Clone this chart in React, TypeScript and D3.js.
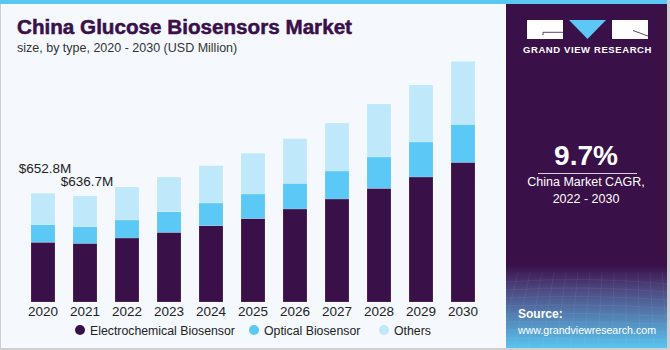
import React from 'react';
import * as d3 from 'd3';

// values (USD Million)
const years = ['2020', '2021', '2022', '2023', '2024', '2025', '2026', '2027', '2028', '2029', '2030'];
const electrochemical = [358.5, 352, 384, 418, 458, 501, 558, 618, 682, 750, 838];
const optical = [106, 101, 108, 124, 136, 147, 154, 168, 188, 210, 228];
const others = [188.3, 183.7, 198, 208, 224, 245, 268, 288, 318, 342, 378];
const seriesNames = ['Electrochemical Biosensor', 'Optical Biosensor', 'Others'];
const annotations = [
  { year: '2020', label: '$652.8M', offset: 20 },
  { year: '2021', label: '$636.7M', offset: 10 },
];

const W = 670;
const H = 350;
const colors = ['#3a1049', '#5bc8f5', '#bfe9fa'];
const font = '"Liberation Sans", Arial, sans-serif';

const App: React.FC = () => {
  const rows = years.map((y, i) => ({
    year: y,
    electro: electrochemical[i],
    optical: optical[i],
    others: others[i],
  }));
  const stack = d3.stack<any>().keys(['electro', 'optical', 'others'])(rows);

  const x = d3.scaleBand<string>()
    .domain(years)
    .range([31, 475])
    .paddingInner(0.4286)
    .paddingOuter(0);

  const y = d3.scaleLinear().domain([0, 1500]).range([302, 52]);

  const totals = years.map((_, i) => electrochemical[i] + optical[i] + others[i]);

  // decorative mesh at the bottom of the side panel
  const meshH = d3.range(0, 8).map(i => 282 + i * 8);
  const meshV = d3.range(0, 14).map(i => 506 + i * 12);

  const legendX = [80, 254, 384];

  return (
    <svg width={W} height={H} style={{ position: 'fixed', left: 0, top: 0 }} fontFamily={font}>
      <defs>
        <linearGradient id="panelGrad" x1="0" y1="0" x2="0" y2="1">
          <stop offset="0%" stopColor="#3a1049" />
          <stop offset="76%" stopColor="#3a1049" />
          <stop offset="83%" stopColor="#4d4880" />
          <stop offset="100%" stopColor="#5ac4f0" />
        </linearGradient>
        <clipPath id="meshClip">
          <rect x={506} y={272} width={161} height={76} />
        </clipPath>
      </defs>

      <rect x={0} y={0} width={W} height={H} fill="#cfcfcf" />
      <rect x={1} y={0} width={666} height={348} fill="#f5f9fd" />
      <rect x={0} y={0} width={667} height={4} fill="#5ac8f2" />

      <text x={17} y={34} fontSize={20} fontWeight={900} fill="#3a1049"
        textLength={335} lengthAdjust="spacingAndGlyphs" stroke="#3a1049" strokeWidth={0.5}>
        China Glucose Biosensors Market
      </text>
      <text x={17} y={52} fontSize={12.5} fill="#333">
        size, by type, 2020 - 2030 (USD Million)
      </text>

      {stack.map((s, si) => (
        <g key={si} fill={colors[si]}>
          {s.map((d, i) => (
            <rect
              key={i}
              x={x(years[i])}
              y={y(d[1])}
              width={x.bandwidth()}
              height={y(d[0]) - y(d[1])}
              stroke="#ffffff"
              strokeOpacity={0.25}
              strokeWidth={0.6}
            />
          ))}
        </g>
      ))}

      {annotations.map(a => {
        const i = years.indexOf(a.year);
        return (
          <text
            key={a.year}
            x={(x(a.year) || 0) + x.bandwidth() / 2 + 2}
            y={y(totals[i]) - a.offset}
            fontSize={13.5}
            textAnchor="middle"
            fill="#222"
          >
            {a.label}
          </text>
        );
      })}

      {years.map(yr => (
        <text
          key={yr}
          x={(x(yr) || 0) + x.bandwidth() / 2}
          y={316}
          fontSize={13.5}
          textAnchor="middle"
          fill="#222"
        >
          {yr}
        </text>
      ))}

      {seriesNames.map((n, i) => (
        <g key={n}>
          <circle cx={legendX[i]} cy={330} r={5} fill={colors[i]} />
          <text x={legendX[i] + 10} y={334.5} fontSize={12.3} fill="#222">
            {n}
          </text>
        </g>
      ))}

      {/* side panel */}
      <rect x={506} y={4} width={161} height={344} fill="url(#panelGrad)" />
      <g clipPath="url(#meshClip)" stroke="#ffffff" strokeOpacity={0.1} strokeWidth={0.6} fill="none">
        {meshH.map((v, i) => (
          <path key={'h' + i} d={`M506,${v} Q586,${v - 6 + i} 667,${v + 2}`} />
        ))}
        {meshV.map((v, i) => (
          <line key={'v' + i} x1={v} y1={272} x2={v - 20 + i * 2} y2={348} />
        ))}
      </g>

      {/* logo */}
      <rect x={527} y={20} width={36} height={19} fill="#ffffff" />
      <path d="M543,35 V32.3 H563" stroke="#3a1049" strokeWidth={0.8} fill="none" />
      <path d="M569,20 L606,20 L587.5,39 Z" fill="#5bc8f5" />
      <rect x={612} y={20} width={36} height={19} fill="#ffffff" />
      <path d="M633,30.5 L648,36" stroke="#3a1049" strokeWidth={0.8} fill="none" />
      <text x={587.5} y={53} fontSize={9.5} fontWeight={700} fill="#ffffff" textAnchor="middle" letterSpacing={0.6}>
        GRAND VIEW RESEARCH
      </text>

      <text x={586} y={165} fontSize={28} fontWeight={700} fill="#ffffff" textAnchor="middle">
        9.7%
      </text>
      <line x1={538} x2={637} y1={173.5} y2={173.5} stroke="#ffffff" strokeOpacity={0.8} strokeWidth={1} />
      <text x={586} y={186} fontSize={12.5} fill="#ffffff" textAnchor="middle">
        China Market CAGR,
      </text>
      <text x={586} y={203} fontSize={12.5} fill="#ffffff" textAnchor="middle">
        2022 - 2030
      </text>

      <text x={518} y={318} fontSize={12} fontWeight={700} fill="#ffffff">
        Source:
      </text>
      <text x={518} y={333.5} fontSize={11.5} fill="#ffffff" textLength={138} lengthAdjust="spacingAndGlyphs">
        www.grandviewresearch.com
      </text>
    </svg>
  );
};

export default App;
